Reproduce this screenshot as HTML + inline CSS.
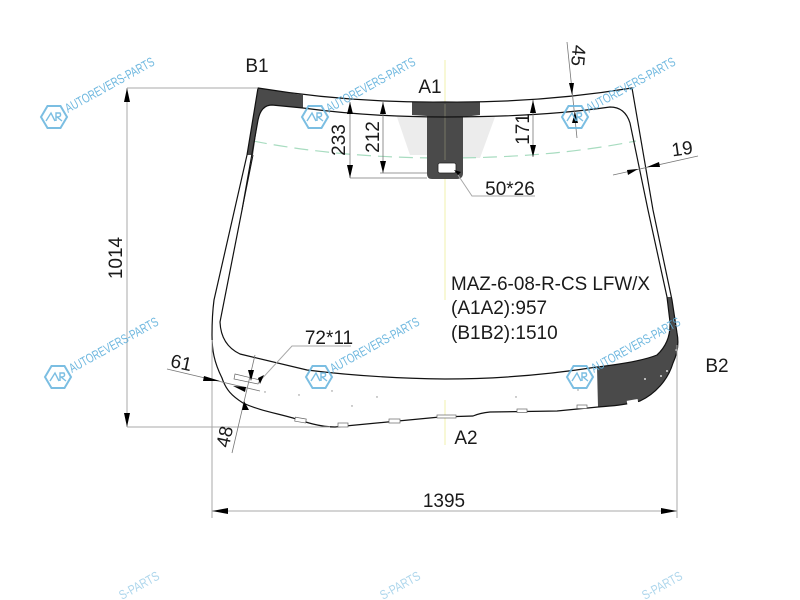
<!DOCTYPE html>
<html><head><meta charset="utf-8"><style>
html,body{margin:0;padding:0;background:#fff;width:800px;height:600px;overflow:hidden}
svg{display:block;width:800px;height:600px}
text{font-family:"Liberation Sans",sans-serif;font-size:19px;fill:#1a1a1a}
.wm text{font-size:13px;fill:#5fb0dc}
.wm polygon{fill:none;stroke:#6db7df;stroke-width:2}
.wm path{fill:none;stroke:#6db7df;stroke-width:1.4}
.wm .low{fill:#a5d2ea}
.g{stroke:#a8a8a8;stroke-width:1;fill:none}
.k{stroke:#777;stroke-width:.8;fill:none}
.a{fill:#000}
</style></head><body>
<svg viewBox="0 0 800 600" xmlns="http://www.w3.org/2000/svg">
<rect width="800" height="600" fill="#fff"/>
<path d="M445 60V215M445 215V300M445 400V445" stroke="#f5f5c8" stroke-width="1.5"/>
<polygon points="397,117 427,117 427,155 410,155" fill="#ececec"/>
<polygon points="463,117 495,117 480,158 463,158" fill="#ececec"/>
<path d="M253 141Q340 158 445 158Q550 158 636 141" fill="none" stroke="#a8dcc0" stroke-width="1.2" stroke-dasharray="14 7"/>

<!-- dark areas -->
<path d="M258 88Q282 92 303 95V108L272 105Q261 105 258 120L253 155H247Z" fill="#4a4a4a"/>
<path d="M412 102H480V115L463 117V173Q463 179 457 179H432Q427 179 427 174V116L412 115Z" fill="#4a4a4a"/>
<rect x="438" y="163" width="18" height="10" rx="2" fill="#fff" stroke="#222" stroke-width=".8"/>
<path d="M445 104V160" stroke="#8a8a70" stroke-width=".7"/>
<path d="M597 367Q640 362 657 355Q671 342 670 322L667 297H671.500L677 333Q680 348 673 363C668 380 655 394 640 401C625 405 612 406 598 407Z" fill="#4a4a4a"/>

<!-- glass outlines -->
<path d="M258 88Q350 103 445 102Q540 103 632 88L653 210L672 300L677 333Q680 348 673 363C668 380 655 394 640 401C625 405 612 406 598 407L557 411L490 412Q480 413 473 416L440 417L335 427C320 427 305 422 293 418C275 413 258 410 243 403C232 396 226 390 222 378C214 362 212 350 212 335Q212 315 214 300L247 155Z" fill="none" stroke="#111" stroke-width="1.2"/>
<path d="M303 108Q370 117 445 117Q540 117 610 107Q625 107 630 123L648 210L667 297L670 322Q671 342 657 355Q640 362 597 367Q520 379 445 379Q370 378 307 370L240 354Q221 345 220 322L242 210L258 120Q261 105 272 105Z" fill="none" stroke="#111" stroke-width="1.2"/>
<path d="M253 155L242 210" fill="none" stroke="#111" stroke-width="1"/>

<!-- notches -->
<g fill="#fff" stroke="#666" stroke-width=".7">
<rect x="295" y="418" width="11" height="4" transform="rotate(10 300 420)"/>
<rect x="338" y="423" width="10" height="4"/>
<rect x="389" y="419" width="11" height="4"/>
<rect x="437" y="415" width="19" height="3"/>
<rect x="517" y="409" width="10" height="3.500"/>
<rect x="577" y="405" width="10" height="3.500"/>
<rect x="627" y="400" width="11" height="4" transform="rotate(-10 632 402)" stroke="none"/>
<polygon points="235,374 260,380 258,384 234,379"/>
</g>
<g fill="#888"><circle cx="265" cy="392" r=".7"/><circle cx="299" cy="395" r=".7"/><circle cx="332" cy="391" r=".7"/><circle cx="352" cy="406" r=".7"/><circle cx="377" cy="397" r=".7"/><circle cx="516" cy="397" r=".7"/><circle cx="578" cy="390" r=".7"/></g>
<g fill="#ddd"><circle cx="645" cy="379" r="1"/><circle cx="661" cy="376" r="1"/><circle cx="667" cy="371" r="1"/><circle cx="676" cy="350" r=".8"/></g>

<!-- dim lines -->
<path class="g" d="M127 88H258M127 88V427M127 427H330M212 340V518M677 345V518M212 511H677"/>
<path class="k" d="M350 102V178M350 178H427M383 102V173M380 173H427M533 100V157"/>
<path class="k" d="M567 42L577 138M613 175L698 156"/>
<path class="k" d="M167 369L260 391M255 355L232 453"/>
<path class="g" d="M258 383L292 346H351M458 175L472 196H535"/>
<!-- arrows -->
<g class="a">
<polygon points="127,88 124,102 130,102"/><polygon points="127,427 124,413 130,413"/>
<polygon points="212,511 228,508 228,514"/><polygon points="677,511 661,508 661,514"/>
<polygon points="350,102 347,114 353,114"/><polygon points="350,178 347,165 353,165"/>
<polygon points="383,102 380,114 386,114"/><polygon points="383,173 380,161 386,161"/>
<polygon points="533,100 530,113 536,113"/><polygon points="533,157 530,145 536,145"/>
<polygon points="572,95 569,83 574,83"/><polygon points="575,112 572,123 578,123"/>
<polygon points="638,169 627,170 628,175"/><polygon points="647,167 659,162 660,167"/>
<polygon points="220,381 204,376 203,381"/><polygon points="233,386 246,387 245,392"/>
<polygon points="251,381 248,370 254,370"/><polygon points="244,401 249,410 242,410"/>
<polygon points="258,378 264,375 260,384"/><polygon points="458,175 454,170 461,172"/>
</g>

<!-- labels -->
<text x="257" y="72" text-anchor="middle">B1</text>
<text x="430" y="93" text-anchor="middle">A1</text>
<text x="717" y="372" text-anchor="middle">B2</text>
<text x="466" y="444" text-anchor="middle">A2</text>
<text x="444" y="507" text-anchor="middle">1395</text>
<text x="510" y="195" text-anchor="middle">50*26</text>
<text x="329" y="344" text-anchor="middle">72*11</text>
<text x="451" y="290" textLength="199" lengthAdjust="spacingAndGlyphs">MAZ-6-08-R-CS LFW/X</text>
<text x="451" y="314">(A1A2):957</text>
<text x="451" y="339">(B1B2):1510</text>
<text transform="translate(122,258) rotate(-90)" text-anchor="middle">1014</text>
<text transform="translate(345,140) rotate(-90)" text-anchor="middle">233</text>
<text transform="translate(379,137) rotate(-90)" text-anchor="middle">212</text>
<text transform="translate(529,129) rotate(-90)" text-anchor="middle">171</text>
<text transform="translate(572,55) rotate(95)" text-anchor="middle">45</text>
<text transform="translate(683,155) rotate(-8)" text-anchor="middle">19</text>
<text transform="translate(180,369) rotate(12)" text-anchor="middle">61</text>
<text transform="translate(231,438) rotate(-78)" text-anchor="middle">48</text>

<!-- watermarks -->
<g class="wm" opacity=".9">
<g transform="translate(54,117)"><polygon points="-13,0 -6.500,-11 6.500,-11 13,0 6.500,11 -6.500,11"/><path d="M-8 4L-3 -4L1 4M2 4V-4H6Q8 0 3 0L8 4"/><text transform="translate(14,-4) rotate(-29)" textLength="100" lengthAdjust="spacingAndGlyphs">AUTOREVERS-PARTS</text></g>
<g transform="translate(315,117)"><polygon points="-13,0 -6.500,-11 6.500,-11 13,0 6.500,11 -6.500,11"/><path d="M-8 4L-3 -4L1 4M2 4V-4H6Q8 0 3 0L8 4"/><text transform="translate(14,-4) rotate(-29)" textLength="100" lengthAdjust="spacingAndGlyphs">AUTOREVERS-PARTS</text></g>
<g transform="translate(575,117)"><polygon points="-13,0 -6.500,-11 6.500,-11 13,0 6.500,11 -6.500,11"/><path d="M-8 4L-3 -4L1 4M2 4V-4H6Q8 0 3 0L8 4"/><text transform="translate(14,-4) rotate(-29)" textLength="100" lengthAdjust="spacingAndGlyphs">AUTOREVERS-PARTS</text></g>
<g transform="translate(58,377)"><polygon points="-13,0 -6.500,-11 6.500,-11 13,0 6.500,11 -6.500,11"/><path d="M-8 4L-3 -4L1 4M2 4V-4H6Q8 0 3 0L8 4"/><text transform="translate(14,-4) rotate(-29)" textLength="100" lengthAdjust="spacingAndGlyphs">AUTOREVERS-PARTS</text></g>
<g transform="translate(319,377)"><polygon points="-13,0 -6.500,-11 6.500,-11 13,0 6.500,11 -6.500,11"/><path d="M-8 4L-3 -4L1 4M2 4V-4H6Q8 0 3 0L8 4"/><text transform="translate(14,-4) rotate(-29)" textLength="100" lengthAdjust="spacingAndGlyphs">AUTOREVERS-PARTS</text></g>
<g transform="translate(580,377)"><polygon points="-13,0 -6.500,-11 6.500,-11 13,0 6.500,11 -6.500,11"/><path d="M-8 4L-3 -4L1 4M2 4V-4H6Q8 0 3 0L8 4"/><text transform="translate(14,-4) rotate(-29)" textLength="100" lengthAdjust="spacingAndGlyphs">AUTOREVERS-PARTS</text></g>
<text class="low" transform="translate(122,600) rotate(-29)" textLength="44" lengthAdjust="spacingAndGlyphs">S-PARTS</text>
<text class="low" transform="translate(383,600) rotate(-29)" textLength="44" lengthAdjust="spacingAndGlyphs">S-PARTS</text>
<text class="low" transform="translate(645,600) rotate(-29)" textLength="44" lengthAdjust="spacingAndGlyphs">S-PARTS</text>
</g>
</svg>
</body></html>
